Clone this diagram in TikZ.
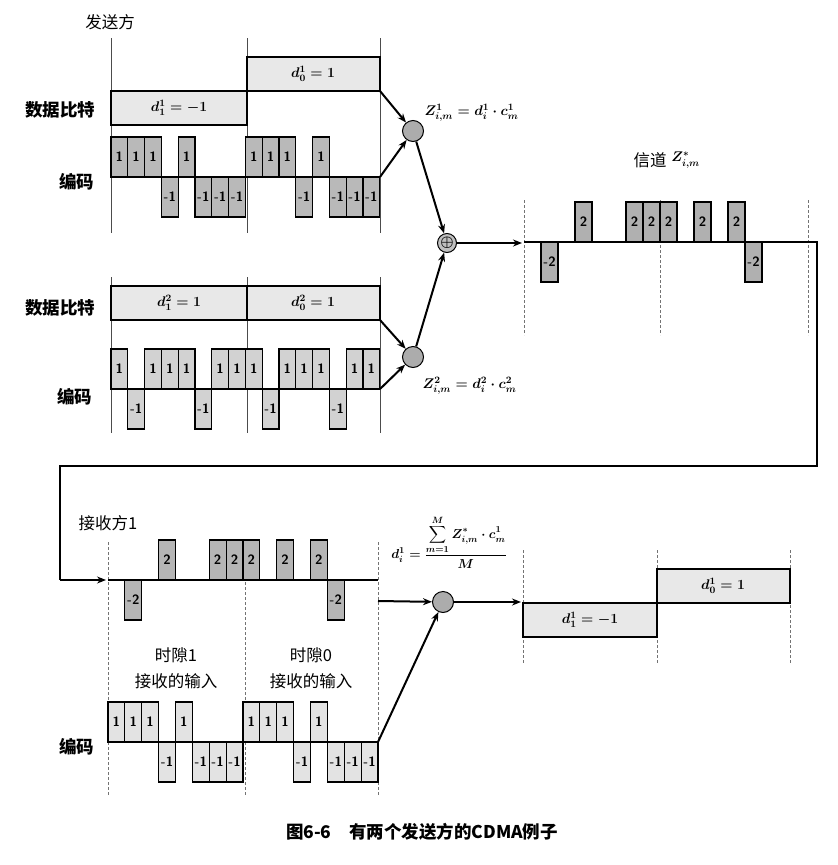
\RequirePackage{fix-cm}
\documentclass[tikz,border=0pt]{standalone}
\usepackage{fontspec}
\newfontfamily\cjk{Noto Sans CJK SC}
\usepackage{amsmath}
\usepackage{bm}
\usetikzlibrary{calc, arrows.meta}

% one row of chips: prefix, x0, baseline, chip width, height, fill, values
\newcommand{\chiprow}[7]{%
  \draw[zline] (#2,#3) -- ({#2+16*#4},#3);
  \foreach \v [count=\i] in {#7} {
    \ifnum\v=0\relax\else
      \pgfmathsetmacro\xa{#2+(\i-1)*#4}
      \pgfmathsetmacro\xb{#2+\i*#4}
      \pgfmathsetmacro\yt{#3-sign(\v)*#5}
      \draw[chip, fill=#6] (\xa,#3) rectangle (\xb,\yt);
      \node[chiplabel] (#1\i) at ({(\xa+\xb)/2},{(#3+\yt)/2}) {\v};
    \fi
  }
}

\begin{document}
\begin{tikzpicture}[x=1pt, y=-1pt,
  chip/.style={draw, line width=1.1pt},
  chiplabel/.style={font=\sffamily\bfseries\fontsize{13.5}{13.5}\selectfont, inner sep=0pt},
  zline/.style={line width=1.1pt},
  bitbox/.style={draw, line width=1.3pt, fill=gray!18},
  slotline/.style={line width=0.7pt, black!70},
  slotdash/.style={line width=0.6pt, black!55, dash pattern=on 3pt off 2pt},
  fatarrow/.style={line width=2pt, -{Stealth[length=9pt, width=7pt]}},
  thinarrow/.style={line width=1.1pt, -{Stealth[length=9pt, width=7pt]}},
  mult/.style={circle, draw, line width=1pt, fill=gray!65, minimum size=21pt, inner sep=0pt},
  cnbold/.style={font=\cjk\bfseries\fontsize{17.5}{20}\selectfont},
  cnplain/.style={font=\cjk\fontsize{16.5}{19}\selectfont},
  formula/.style={font=\fontsize{14}{16}\selectfont\boldmath}]
  \useasboundingbox (0,0) rectangle (838,865);

  % Sender 1
  \node[cnplain] (send) at (110,22) {发送方};
  \foreach \x in {111,247,380}
    \draw[slotline] (\x,38) -- (\x,233);
  \draw[bitbox] (111,91) rectangle (247,125);
  \draw[bitbox] (247,57) rectangle (380,91);
  \node[formula] (b11) at (179,108) {$d^1_1 = -1$};
  \node[formula] (b10) at (313,74) {$d^1_0 = 1$};
  \node[cnbold, anchor=east] (bits1) at (99,110) {数据比特};
  \node[cnbold, anchor=east] (code1) at (98,182) {编码};
  \chiprow{sa}{111}{177}{16.8}{40}{gray!55}{1,1,1,-1,1,-1,-1,-1,1,1,1,-1,1,-1,-1,-1}
  \coordinate (s1bit) at (380,91);
  \coordinate (s1code) at (380,177);

  % Sender 2
  \foreach \x in {111,247,380}
    \draw[slotline] (\x,277) -- (\x,433);
  \draw[bitbox] (111,286) rectangle (247,320);
  \draw[bitbox] (247,286) rectangle (380,320);
  \node[formula] (b21) at (179,303) {$d^2_1 = 1$};
  \node[formula] (b20) at (313,303) {$d^2_0 = 1$};
  \node[cnbold, anchor=east] (bits2) at (99,308) {数据比特};
  \node[cnbold, anchor=east] (code2) at (96,397) {编码};
  \chiprow{sb}{111}{389}{16.8}{40}{gray!35}{1,-1,1,1,1,-1,1,1,1,-1,1,1,1,-1,1,1}
  \coordinate (s2bit) at (380,320);
  \coordinate (s2code) at (380,389);

  % Multipliers and summer
  \node[mult] (m1) at (413,131) {};
  \node[mult] (m2) at (413,357) {};
  \node[circle, draw, line width=1pt, fill=gray!50, minimum size=19pt, inner sep=0pt,
        font=\fontsize{15}{15}\selectfont\boldmath] (sum) at (447,243) {$\oplus$};
  \node[formula, anchor=west] (z1) at (421,113) {$Z^1_{i,m} = d^1_i\cdot c^1_m$};
  \node[formula, anchor=west] (z2) at (419,386) {$Z^2_{i,m} = d^2_i\cdot c^2_m$};
  \draw[fatarrow] (s1bit) -- (m1);
  \draw[fatarrow] (s1code) -- (m1);
  \draw[fatarrow] (s2bit) -- (m2);
  \draw[fatarrow] (s2code) -- (m2);
  \draw[fatarrow] (m1) -- (sum);
  \draw[fatarrow] (m2) -- (sum);

  % Channel
  \node[cnplain, anchor=west] (chan) at (630,160) {信道};
  \node[formula, anchor=west, inner sep=1pt] (chanz) at (chan.east) {$Z^{*}_{i,m}$};
  \foreach \x in {524,660,808}
    \draw[slotdash] (\x,200) -- (\x,335);
  \coordinate (chin) at (522,243);
  \draw[fatarrow] (sum) -- (chin);
  \chiprow{ch}{524}{242}{17}{40}{gray!62}{0,-2,0,2,0,0,2,2,2,0,2,0,2,-2,0,0}
  \coordinate (chend) at (817,242);
  \coordinate (loopa) at (817,466);
  \coordinate (loopb) at (60,466);
  \coordinate (loopc) at (60,580);
  \coordinate (rxin) at (106,580);
  \draw[zline] (796,242) -- (chend) -- (loopa) -- (loopb) -- (loopc);
  \draw[thinarrow] (loopc) -- (rxin);

  % Receiver 1
  \node[cnplain, anchor=west] (recv) at (75,523) {接收方1};
  \foreach \x in {108,245,378}
    \draw[slotdash] (\x,542) -- (\x,795);
  \chiprow{ra}{108}{580}{16.875}{40}{gray!58}{0,-2,0,2,0,0,2,2,2,0,2,0,2,-2,0,0}
  \node[cnplain] (slot1) at (176,655) {时隙1};
  \node[cnplain] (in1) at (176,681) {接收的输入};
  \node[cnplain] (slot0) at (311,655) {时隙0};
  \node[cnplain] (in0) at (311,681) {接收的输入};
  \node[cnbold, anchor=east] (code3) at (98,747) {编码};
  \chiprow{rb}{108}{742}{16.875}{40}{gray!22}{1,1,1,-1,1,-1,-1,-1,1,1,1,-1,1,-1,-1,-1}
  \coordinate (rxch) at (378,601);
  \coordinate (rxcode) at (378,742);
  \node[mult] (rx) at (443,602) {};
  \node[formula, font=\fontsize{13}{15}\selectfont\boldmath] (dform) at (449,542)
    {$d^1_i = \dfrac{\displaystyle\sum_{m=1}^{M} Z^{*}_{i,m}\cdot c^1_m}{M}$};
  \draw[fatarrow] (rxch) -- (rx);
  \draw[fatarrow] (rxcode) -- (rx);

  % Decoded output
  \coordinate (outin) at (521,602);
  \draw[fatarrow] (rx) -- (outin);
  \foreach \x in {523,657,790}
    \draw[slotdash] (\x,550) -- (\x,663);
  \draw[bitbox] (523,603) rectangle (657,637);
  \draw[bitbox] (657,569) rectangle (790,603);
  \node[formula] (o1) at (590,620) {$d^1_1 = -1$};
  \node[formula] (o0) at (723,586) {$d^1_0 = 1$};

  % Caption
  \node[font=\cjk\bfseries\fontsize{17.5}{20}\selectfont] (cap) at (422,832) {图6-6\quad 有两个发送方的CDMA例子};
\end{tikzpicture}
\end{document}
